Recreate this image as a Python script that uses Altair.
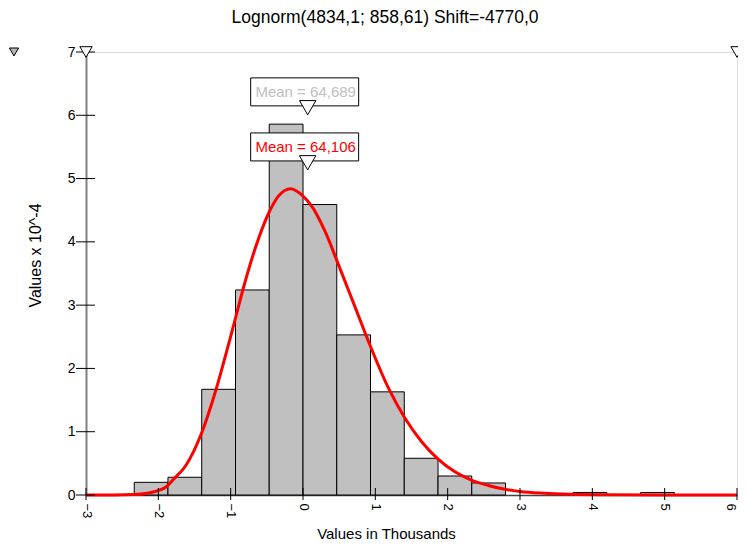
import altair as alt
import pandas as pd

# histogram bins (values in thousands) and heights (x 10^-4)
bin_lo = [-2.333, -1.867, -1.4, -0.933, -0.467, 0.0, 0.467, 0.933, 1.4, 1.867, 2.333, 2.8, 3.267, 3.733, 4.2, 4.667]
bin_hi = [-1.867, -1.4, -0.933, -0.467, 0.0, 0.467, 0.933, 1.4, 1.867, 2.333, 2.8, 3.267, 3.733, 4.2, 4.667, 5.133]
bin_h = [0.20, 0.28, 1.67, 3.24, 5.86, 4.59, 2.53, 1.63, 0.58, 0.30, 0.19, 0.0, 0.0, 0.04, 0.0, 0.04]

# fitted curve
curve_x = [-3.0, -2.6, -2.35, -2.1, -1.89, -1.80, -1.617, -1.41, -1.204, -1.02, -0.93, -0.815,
           -0.609, -0.472, -0.334, -0.174, -0.014, 0.123, 0.307, 0.49, 0.696, 0.925, 1.177,
           1.406, 1.635, 1.864, 2.094, 2.32, 2.55, 2.794, 3.0, 3.33, 3.7, 4.2, 5.0, 6.0]
curve_y = [0.0, 0.0, 0.006, 0.04, 0.13, 0.237, 0.47, 0.955, 1.66, 2.42, 2.81, 3.31,
           4.07, 4.46, 4.73, 4.84, 4.74, 4.56, 4.16, 3.64, 3.04, 2.37, 1.70,
           1.22, 0.85, 0.57, 0.37, 0.24, 0.155, 0.09, 0.055, 0.028, 0.012, 0.004, 0.0, 0.0]

x_ticks = [-3, -2, -1, 0, 1, 2, 3, 4, 5, 6]
y_ticks = [0, 1, 2, 3, 4, 5, 6, 7]

mean_labels = ["Mean = 64,689", "Mean = 64,106"]
mean_vals = [0.0647, 0.0641]
mean_colors = ["#c0c0c0", "#ff0000"]

title_text = "Lognorm(4834,1; 858,61) Shift=-4770,0"
FONT = "Liberation Sans"

W, H = 651, 443
xs = alt.Scale(domain=[-3, 6], nice=False, zero=False)
ys = alt.Scale(domain=[0, 7], nice=False, zero=False)

bars_df = pd.DataFrame({"lo": bin_lo, "hi": bin_hi, "h": bin_h})
bars_df = bars_df[bars_df["h"] > 0]
curve_df = pd.DataFrame({"x": curve_x, "y": curve_y})
xt_df = pd.DataFrame({"t": x_ticks})
yt_df = pd.DataFrame({"t": y_ticks})

xaxis = alt.Axis(values=x_ticks, format="d", labelAngle=90, labelAlign="left",
                 labelBaseline="middle", labelPadding=8, ticks=False, grid=False,
                 labelOffset=alt.condition("datum.value == 6", alt.value(-7), alt.value(0)),
                 domainColor="#444444", domainWidth=1.5, labelFontSize=13, labelFont=FONT,
                 labelColor="#000000", labelOverlap=False, labelBound=False,
                 title="Values in Thousands", titleFont=FONT, titleFontSize=15,
                 titleFontWeight="normal", titleX=300, titleY=38, titleBaseline="middle",
                 titleAlign="center", titleColor="#000000")
yaxis = alt.Axis(values=y_ticks, format="d", ticks=False, grid=False, labelPadding=11,
                 domainColor="#808080", domainWidth=2, labelFontSize=14, labelFont=FONT,
                 labelColor="#000000", labelOverlap=False,
                 title="Values x 10^-4", titleFont=FONT, titleFontSize=16,
                 titleFontWeight="normal", titleX=-51, titleY=203, titleBaseline="middle",
                 titleAlign="center", titleAngle=-90, titleColor="#000000")

bars = alt.Chart(bars_df).mark_rect(fill="#c0c0c0", stroke="#000000", strokeWidth=1).encode(
    x=alt.X("lo:Q", scale=xs, axis=xaxis),
    x2="hi:Q",
    y=alt.Y("h:Q", scale=ys, axis=yaxis),
    y2=alt.datum(0),
)

xticks = alt.Chart(xt_df).mark_rule(color="#000000", strokeWidth=1).encode(
    x=alt.X("t:Q", scale=xs), y=alt.value(H - 7), y2=alt.value(H + 5))
yticks = alt.Chart(yt_df).mark_rule(color="#000000", strokeWidth=1).encode(
    y=alt.Y("t:Q", scale=ys), x=alt.value(-10), x2=alt.value(9))

curve = alt.Chart(curve_df).mark_line(color="#ff0000", strokeWidth=3, interpolate="monotone").encode(
    x=alt.X("x:Q", scale=xs), y=alt.Y("y:Q", scale=ys))

box_y = [6.37, 5.50]
tri_y = [6.12, 5.25]
ann_df = pd.DataFrame({"label": mean_labels, "m": mean_vals, "c": mean_colors,
                       "by": box_y, "ty": tri_y})

boxes = alt.Chart(ann_df).mark_rect(width=108, height=28, fill="#ffffff", stroke="#000000",
                                    strokeWidth=1).encode(
    x=alt.X("m:Q", scale=xs), y=alt.Y("by:Q", scale=ys), xOffset=alt.value(-3))
texts = alt.Chart(ann_df).mark_text(font=FONT, fontSize=15, align="center", baseline="middle",
                                    dx=-2).encode(
    x=alt.X("m:Q", scale=xs), y=alt.Y("by:Q", scale=ys), text="label:N",
    color=alt.Color("c:N", scale=None))
tris = alt.Chart(ann_df).mark_point(shape="triangle-down", size=270, filled=True, fill="#ffffff",
                                    stroke="#000000", strokeWidth=1, opacity=1).encode(
    x=alt.X("m:Q", scale=xs), y=alt.Y("ty:Q", scale=ys))

corner_df = pd.DataFrame({"x": [-3, 6], "y": [7, 7]})
corners = alt.Chart(corner_df).mark_point(shape="triangle-down", size=150, filled=True,
                                          fill="#ffffff", stroke="#000000", strokeWidth=1,
                                          opacity=1).encode(
    x=alt.X("x:Q", scale=xs), y=alt.Y("y:Q", scale=ys))
outside_tri = alt.Chart(corner_df.head(1)).mark_point(shape="triangle-down", size=85, filled=True,
                                                      fill="#b4b4b4", stroke="#000000",
                                                      strokeWidth=1, opacity=1).encode(
    x=alt.value(-72), y=alt.value(0))

title = alt.Chart(corner_df.head(1)).mark_text(font=FONT, fontSize=17.5, align="center",
                                               baseline="middle", color="#000000",
                                               text=title_text).encode(
    x=alt.value(299), y=alt.value(-34))

chart = alt.layer(bars, curve, xticks, yticks, boxes, texts, tris, corners, outside_tri, title).properties(
    width=W, height=H,
    autosize=alt.AutoSizeParams(type="none"),
    padding={"left": 78, "top": 44, "right": 1, "bottom": 47},
).configure_view(stroke="#808080", strokeWidth=1.5).configure(background="#ffffff")

chart.save("out.html", embed_options={"renderer": "svg", "actions": False})
